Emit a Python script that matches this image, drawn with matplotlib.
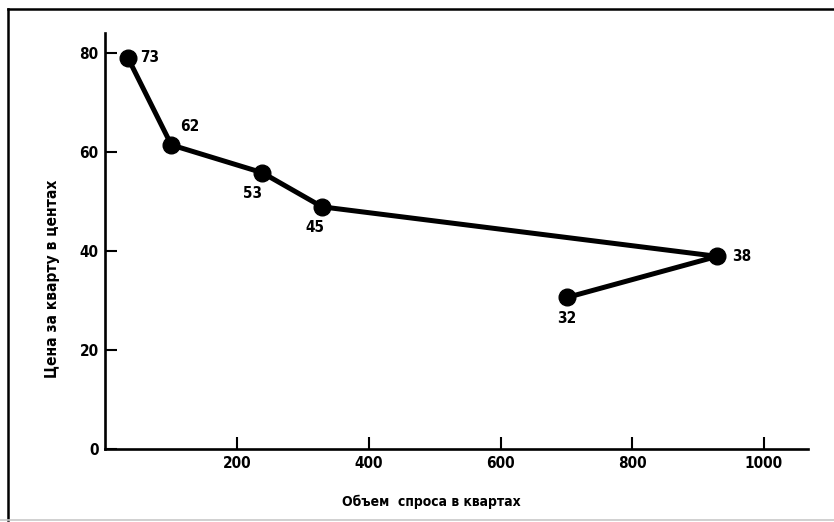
import matplotlib
matplotlib.use("Agg")
import matplotlib.pyplot as plt
from matplotlib.lines import Line2D

plt.rcParams['font.family'] = ['DejaVu Sans']
plt.rcParams['font.stretch'] = 'condensed'
plt.rcParams['font.weight'] = 'bold'

# объем спроса (кварты) и цена (центы)
volume = [34, 100, 238, 329, 929, 701]
price = [79, 61.4, 55.8, 48.9, 38.9, 30.6]
labels = ['73', '62', '53', '45', '38', '32']
# смещения подписей в пунктах
offsets = [(9, 0), (6, 13), (-7, -15), (-5, -15), (11, 0), (0, -15)]
aligns = [('left', 'center'), ('left', 'center'), ('center', 'center'),
          ('center', 'center'), ('left', 'center'), ('center', 'center')]

xticks = [200, 400, 600, 800, 1000]
yticks = [0, 20, 40, 60, 80]

fig = plt.figure(figsize=(8.34, 5.22), dpi=100)
ax = fig.add_axes([105.5 / 834, 1 - 449 / 522, (808 - 105.5) / 834, (449 - 33) / 522])

ax.plot(volume, price, color='black', lw=3.6, marker='o', ms=12,
        solid_joinstyle='round', clip_on=False)

for x, y, t, off, al in zip(volume, price, labels, offsets, aligns):
    ax.annotate(t, (x, y), xytext=off, textcoords='offset points',
                ha=al[0], va=al[1], fontsize=11)

ax.set_xlim(0, 1067)
ax.set_ylim(0, 84)
ax.set_xticks(xticks)
ax.set_yticks(yticks)
ax.tick_params(direction='in', length=8.5, width=1.5, labelsize=11, pad=5)
for s in ['top', 'right']:
    ax.spines[s].set_visible(False)
for s in ['left', 'bottom']:
    ax.spines[s].set_linewidth(1.9)

fig.text(342 / 834, 1 - 502 / 522, 'Объем  спроса в квартах', ha='left', va='center', fontsize=10)
fig.text(53 / 834, 1 - 279 / 522, 'Цена за кварту в центах', rotation=90,
         ha='center', va='center', fontsize=11.2)

# рамка скана
fig.add_artist(Line2D([8 / 834, 1], [1 - 9 / 522, 1 - 9 / 522], color='black', lw=1.8,
                      transform=fig.transFigure))
fig.add_artist(Line2D([8 / 834, 8 / 834], [1 - 9 / 522, 1 - 520 / 522], color='black', lw=1.8,
                      transform=fig.transFigure))
fig.add_artist(Line2D([0, 1], [1 - 520 / 522, 1 - 520 / 522], color='#c8c8c8', lw=1.2,
                      transform=fig.transFigure))

fig.savefig('out.png', dpi=100)
